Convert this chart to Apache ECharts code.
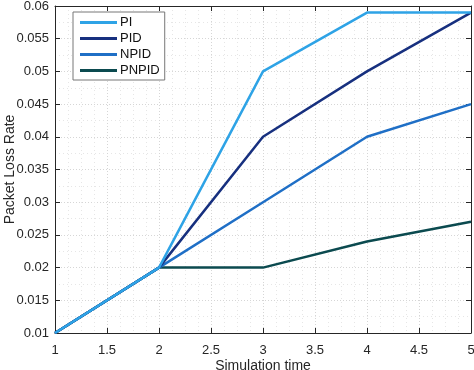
<!DOCTYPE html>
<html>
<head>
<meta charset="utf-8">
<script src="https://cdn.jsdelivr.net/npm/echarts@6/dist/echarts.min.js"></script>
<style>
html,body{margin:0;padding:0;background:#fff;}
#chart{width:474px;height:370px;}
</style>
</head>
<body>
<div id="chart"></div>
<script>
const xValues = [1, 2, 3, 4, 5];
const seriesNames = ['PI', 'PID', 'NPID', 'PNPID'];
const piValues = [0.01, 0.02, 0.05, 0.059, 0.059];
const pidValues = [0.01, 0.02, 0.04, 0.05, 0.059];
const npidValues = [0.01, 0.02, 0.03, 0.04, 0.045];
const pnpidValues = [0.01, 0.02, 0.02, 0.024, 0.027];
const colors = ['#2ea3e6', '#17307f', '#1f6fc6', '#0b4a4f'];
const allValues = [piValues, pidValues, npidValues, pnpidValues];

const chart = echarts.init(document.getElementById('chart'));
const font = 'Liberation Sans, Arial, sans-serif';
const axisColor = '#262626';
const fmtY = v => String(parseFloat(v.toFixed(3)));
const fmtX = v => String(parseFloat(v.toFixed(2)));

const common = {
  axisLine: {show: true, onZero: false, lineStyle: {color: axisColor, width: 1}},
  axisTick: {show: true, inside: true, length: 5, lineStyle: {color: axisColor}},
};

chart.setOption({
  animation: false,
  grid: {left: 55, right: 3, top: 6, bottom: 37, show: false, containLabel: false, outerBoundsMode: 'none'},
  legend: {
    orient: 'vertical', left: 73, top: 12,
    padding: [4, 5, 3, 7],
    borderColor: '#777', borderWidth: 1, backgroundColor: '#fff',
    itemWidth: 37, itemHeight: 3, itemGap: 3,
    icon: 'rect',
    textStyle: {fontFamily: font, fontSize: 13, color: '#111', padding: [0,0,0,-2]},
    data: seriesNames
  },
  xAxis: [{
    type: 'value', min: 1, max: 5, interval: 0.5, position: 'bottom',
    ...common,
    axisLabel: {formatter: fmtX, fontFamily: font, fontSize: 13, color: axisColor, margin: 11},
    name: 'Simulation time', nameLocation: 'middle', nameGap: 26, nameMoveOverlap: false,
    nameTextStyle: {fontFamily: font, fontSize: 14, color: axisColor},
    splitLine: {show: true, lineStyle: {color: '#d6d6d6', type: [1, 2], width: 1}},
    minorSplitLine: {show: true, lineStyle: {color: '#e6e6e6', type: [1, 3], width: 1}},
    minorTick: {show: false, splitNumber: 4}
  }, {
    type: 'value', min: 1, max: 5, interval: 0.5, position: 'top',
    ...common,
    axisLabel: {show: false}, splitLine: {show: false}
  }],
  yAxis: [{
    type: 'value', min: 0.01, max: 0.06, interval: 0.005, position: 'left',
    ...common,
    axisLabel: {formatter: fmtY, fontFamily: font, fontSize: 13, color: axisColor, margin: 6},
    name: 'Packet Loss Rate', nameLocation: 'middle', nameGap: 38, nameMoveOverlap: false,
    nameTextStyle: {fontFamily: font, fontSize: 14, color: axisColor},
    splitLine: {show: true, lineStyle: {color: '#d6d6d6', type: [1, 2], width: 1}},
    minorSplitLine: {show: true, lineStyle: {color: '#e6e6e6', type: [1, 3], width: 1}},
    minorTick: {show: false, splitNumber: 2}
  }, {
    type: 'value', min: 0.01, max: 0.06, interval: 0.005, position: 'right',
    ...common,
    axisLabel: {show: false}, splitLine: {show: false}
  }],
  series: seriesNames.map((n, i) => ({
    name: n, type: 'line',
    data: xValues.map((x, j) => [x, allValues[i][j]]),
    showSymbol: false, symbol: 'none',
    lineStyle: {color: colors[i], width: 2.5},
    itemStyle: {color: colors[i]},
    z: 10 - i
  }))
});
</script>
</body>
</html>
